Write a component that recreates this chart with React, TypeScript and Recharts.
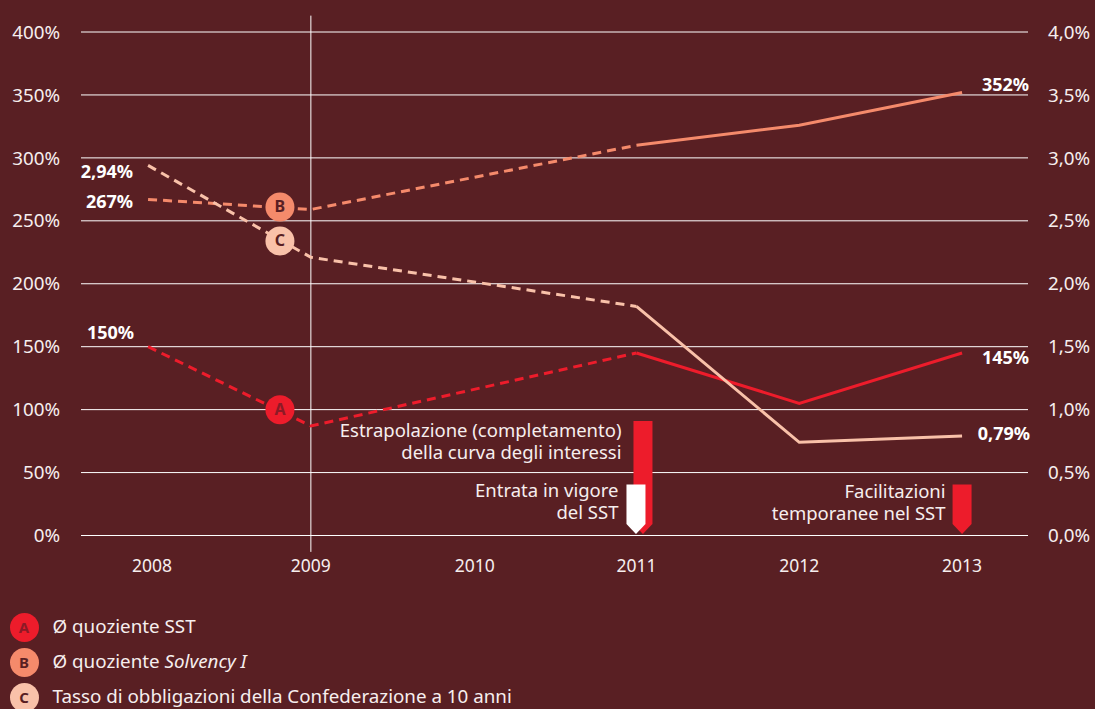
import { CartesianGrid, Line, LineChart, ReferenceDot, ReferenceLine, XAxis, YAxis } from "recharts";

const FONT = '"Noto Sans", "Open Sans", sans-serif';
const BG = "#591f23";
const RED = "#ed1c2b";
const ORANGE = "#f58a6b";
const PEACH = "#f9c1a9";
const TEXT = "#f6eeee";

const years = [2008, 2009, 2011, 2012, 2013];
const yearTicks = [2008, 2009, 2010, 2011, 2012, 2013];
const sstQuotient = [150, 87, 145, 105, 145];
const solvencyQuotient = [267, 259, 310, 326, 352];
const bondRate = [2.94, 2.21, 1.82, 0.74, 0.79];

const ratioTicks = [0, 50, 100, 150, 200, 250, 300, 350, 400];
const rateTicks = [0, 0.5, 1, 1.5, 2, 2.5, 3, 3.5, 4];

const valueLabels = [
  { year: 2008, value: 150, axis: "left", text: "150%", dx: -14, dy: -8 },
  { year: 2008, value: 267, axis: "left", text: "267%", dx: -15, dy: 9 },
  { year: 2008, value: 2.94, axis: "right", text: "2,94%", dx: -15, dy: 12.5 },
  { year: 2013, value: 352, axis: "left", text: "352%", dx: 67, dy: -1.5 },
  { year: 2013, value: 145, axis: "left", text: "145%", dx: 67, dy: 11 },
  { year: 2013, value: 0.79, axis: "right", text: "0,79%", dx: 68, dy: 4 },
];

const badges = [
  { letter: "A", value: 100, axis: "left", fill: RED, ink: "#8c1a26" },
  { letter: "B", value: 261, axis: "left", fill: ORANGE, ink: "#591f23" },
  { letter: "C", value: 2.34, axis: "right", fill: PEACH, ink: "#591f23" },
];
const badgeYear = 2008.81;

const flags = [
  { year: 2011, top: 91, fill: RED, shift: 6.5, lines: ["Estrapolazione (completamento)", "della curva degli interessi"], textX: -19, textY: 16 },
  { year: 2013, top: 40.5, fill: RED, shift: 0, lines: ["Facilitazioni", "temporanee nel SST"], textX: -14, textY: 13 },
  { year: 2011, top: 40.5, fill: "#ffffff", shift: -0.5, lines: ["Entrata in vigore", "del SST"], textX: -15, textY: 12.5 },
];

const legendItems = [
  { letter: "A", fill: RED, ink: "#8c1a26", label: <>Ø quoziente SST</> },
  { letter: "B", fill: ORANGE, ink: "#591f23", label: <>Ø quoziente <i>Solvency I</i></> },
  { letter: "C", fill: PEACH, ink: "#591f23", label: <>Tasso di obbligazioni della Confederazione a 10 anni</> },
];

const split = (values: number[]) => ({
  dashed: values.map((v, i) => (years[i] <= 2011 ? v : null)),
  solid: values.map((v, i) => (years[i] >= 2011 ? v : null)),
});
const sst = split(sstQuotient);
const solvency = split(solvencyQuotient);
const bond = split(bondRate);

const rows = years.map((year, i) => ({
  year,
  sstDashed: sst.dashed[i],
  sstSolid: sst.solid[i],
  solvencyDashed: solvency.dashed[i],
  solvencySolid: solvency.solid[i],
  bondDashed: bond.dashed[i],
  bondSolid: bond.solid[i],
}));

const PX_PER_POINT = 503.5 / 400;
const FLAG_WIDTH = 19;
const DASH = "9 6";
const LINE_WIDTH = 3;

function FlagShape({ cx, cy, top, fill, shift, lines, textX, textY }: any) {
  const h = top * PX_PER_POINT - 1.5;
  const l = cx + shift - FLAG_WIDTH / 2;
  const r = l + FLAG_WIDTH;
  const points = [
    [l, cy],
    [r, cy],
    [r, cy + h - 10],
    [l + FLAG_WIDTH / 2, cy + h],
    [l, cy + h - 10],
  ];
  return (
    <g>
      <polygon points={points.map((p) => p.join(",")).join(" ")} fill={fill} />
      {lines.map((t: string, i: number) => (
        <text
          key={t}
          x={l + textX + 7}
          y={cy + textY + i * 22}
          textAnchor="end"
          fill={TEXT}
          fontFamily={FONT}
          fontSize={18.5}
        >
          {t}
        </text>
      ))}
    </g>
  );
}

function ValueText({ cx, cy, text, dx, dy }: any) {
  return (
    <text x={cx + dx} y={cy + dy} textAnchor="end" fill="#ffffff" fontFamily={FONT} fontSize={18} fontWeight={700}>
      {text}
    </text>
  );
}

function BadgeShape({ cx, cy, letter, fill, ink }: any) {
  return (
    <g>
      <circle cx={cx} cy={cy} r={14.5} fill={fill} />
      <text x={cx} y={cy + 5.5} textAnchor="middle" fill={ink} fontFamily={FONT} fontSize={16} fontWeight={700}>
        {letter}
      </text>
    </g>
  );
}

function YearTick({ x, y, payload }: any) {
  // the first year label sits a little right of its data point
  const nudge = payload.value === 2008 ? 4 : payload.value === 2010 ? 1 : 0;
  return (
    <text x={x + nudge} y={y} dy={6} textAnchor="middle" fill={TEXT} fontFamily={FONT} fontSize={17.5}>
      {payload.value}
    </text>
  );
}

export default function App() {
  return (
    <div style={{ position: "absolute", left: 0, top: 0, width: 1095, height: 709, background: BG, overflow: "hidden", fontFamily: FONT }}>
      <LineChart width={1095} height={600} data={rows} margin={{ top: 32, right: 0, bottom: 0, left: 0 }}>
        <CartesianGrid yAxisId="left" vertical={false} stroke="#ffffff" strokeWidth={1} />
        <XAxis
          dataKey="year"
          type="number"
          domain={[2007.588, 2013.405]}
          ticks={yearTicks}
          interval={0}
          height={64.5}
          axisLine={false}
          tickLine={false}
          tickSize={0}
          tickMargin={30}
          tick={<YearTick />}
        />
        <YAxis
          yAxisId="left"
          orientation="left"
          width={81}
          domain={[0, 400]}
          ticks={ratioTicks}
          interval={0}
          axisLine={false}
          tickLine={false}
          tickSize={0}
          tickMargin={21}
          tickFormatter={(v: number) => `${v}%`}
          tick={{ fill: TEXT, fontFamily: FONT, fontSize: 18.8 }}
        />
        <YAxis
          yAxisId="right"
          orientation="right"
          width={67}
          domain={[0, 4]}
          ticks={rateTicks}
          interval={0}
          axisLine={false}
          tickLine={false}
          tickSize={0}
          tickMargin={20}
          tickFormatter={(v: number) => `${v.toFixed(1).replace(".", ",")}%`}
          tick={{ fill: TEXT, fontFamily: FONT, fontSize: 18.8 }}
        />

        <ReferenceLine
          yAxisId="left"
          ifOverflow="visible"
          stroke="#ffffff"
          strokeWidth={1}
          segment={[
            { x: 2009, y: -13 },
            { x: 2009, y: 413 },
          ]}
        />

        <Line yAxisId="left" dataKey="sstDashed" stroke={RED} strokeWidth={LINE_WIDTH} strokeDasharray={DASH} dot={false} isAnimationActive={false} />
        <Line yAxisId="left" dataKey="sstSolid" stroke={RED} strokeWidth={LINE_WIDTH} dot={false} isAnimationActive={false} />
        <Line yAxisId="left" dataKey="solvencyDashed" stroke={ORANGE} strokeWidth={LINE_WIDTH} strokeDasharray={DASH} dot={false} isAnimationActive={false} />
        <Line yAxisId="left" dataKey="solvencySolid" stroke={ORANGE} strokeWidth={LINE_WIDTH} dot={false} isAnimationActive={false} />
        <Line yAxisId="right" dataKey="bondDashed" stroke={PEACH} strokeWidth={LINE_WIDTH} strokeDasharray={DASH} dot={false} isAnimationActive={false} />
        <Line yAxisId="right" dataKey="bondSolid" stroke={PEACH} strokeWidth={LINE_WIDTH} dot={false} isAnimationActive={false} />

        {flags.map((f) => (
          <ReferenceDot
            key={f.lines[0]}
            yAxisId="left"
            x={f.year}
            y={f.top}
            ifOverflow="visible"
            shape={(p: any) => <FlagShape {...p} {...f} />}
          />
        ))}
        {badges.map((b) => (
          <ReferenceDot
            key={b.letter}
            yAxisId={b.axis}
            x={badgeYear}
            y={b.value}
            ifOverflow="visible"
            shape={(p: any) => <BadgeShape {...p} {...b} />}
          />
        ))}
        {valueLabels.map((v) => (
          <ReferenceDot
            key={v.text}
            yAxisId={v.axis}
            x={v.year}
            y={v.value}
            ifOverflow="visible"
            shape={(p: any) => <ValueText {...p} {...v} />}
          />
        ))}
      </LineChart>

      {legendItems.map((item, i) => (
        <div key={item.letter} style={{ position: "absolute", left: 9.5, top: 612.5 + i * 35, height: 29, display: "flex", alignItems: "center" }}>
          <div
            style={{
              width: 29,
              height: 29,
              borderRadius: "50%",
              background: item.fill,
              color: item.ink,
              fontSize: 15,
              fontWeight: 700,
              lineHeight: "29px",
              textAlign: "center",
            }}
          >
            {item.letter}
          </div>
          <div style={{ marginLeft: 14, marginTop: -2, color: TEXT, fontSize: 18.8, whiteSpace: "nowrap" }}>{item.label}</div>
        </div>
      ))}
    </div>
  );
}
